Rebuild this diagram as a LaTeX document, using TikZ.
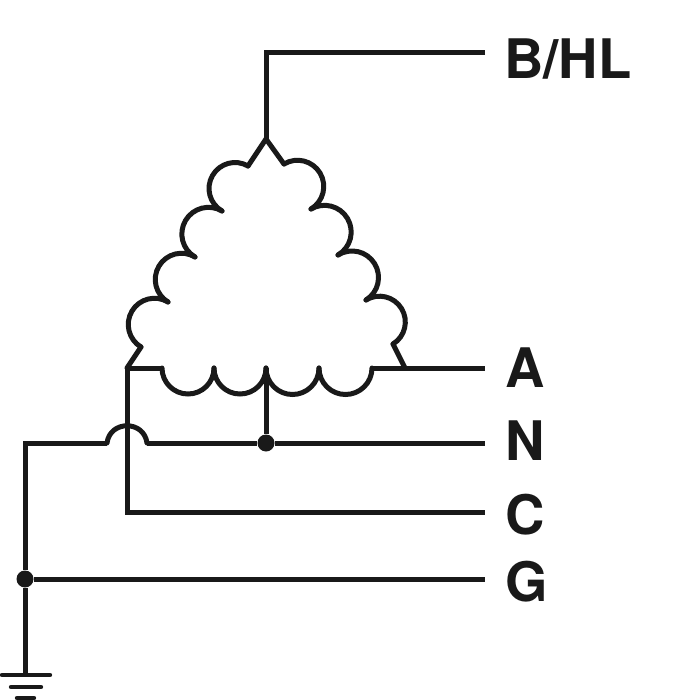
\documentclass[tikz,border=0pt]{standalone}
\usepackage{fontspec}
\setmainfont{TeX Gyre Heros}
\usetikzlibrary{calc}
\tikzset{
  wire/.style={line width=5pt,line join=miter,line cap=butt,black!90},
  coilturn/.style={line width=5pt,line cap=round,black!90},
  groundbar/.style={line width=4.4pt,line cap=round,black!90},
  junction/.style={circle,fill=black!90,inner sep=0pt,minimum size=17pt},
  tag/.style={anchor=base west,inner sep=0pt,font=\fontsize{54.5pt}{54.5pt}\selectfont\bfseries,text=black!90}
}
\newcommand{\turn}[2]{\draw[coilturn] let \p1=(#1), \p2=(#2),
  \n1={atan2(\y1-\y2,\x1-\x2)}, \n2={veclen(\x2-\x1,\y2-\y1)/2} in
  (#1) arc[start angle=\n1, delta angle=180, radius=\n2];}
\begin{document}
\begin{tikzpicture}[x=1pt,y=1pt]
\useasboundingbox (0,0) rectangle (692,-700);
% labels
\node[tag] (lb) at (504,-79) {B/HL};
\node[tag] (la) at (505,-387) {A};
\node[tag] (ln) at (505,-460) {N};
\node[tag] (lc) at (505,-534) {C};
\node[tag] (lg) at (505,-601) {G};
% wire ends
\coordinate (bend) at (266,-53);
\coordinate (bend2) at (485,-53);
\coordinate (apex) at (266,-139);
\coordinate (l0) at (248,-166);
\coordinate (l1) at (222,-211);
\coordinate (l2) at (195,-257);
\coordinate (l3) at (168,-302);
\coordinate (l4) at (141,-347);
\coordinate (corner) at (127,-368);
\coordinate (r0) at (284,-164);
\coordinate (r1) at (311,-209);
\coordinate (r2) at (338,-255);
\coordinate (r3) at (366,-300);
\coordinate (r4) at (393,-344);
\coordinate (r5) at (405,-368);
\coordinate (b0) at (162,-368);
\coordinate (b1) at (214,-368);
\coordinate (b2) at (266,-368);
\coordinate (b3) at (319,-368);
\coordinate (b4) at (372,-368);
\coordinate (aend) at (485,-368);
\coordinate (cturn) at (127,-512);
\coordinate (cend) at (485,-512);
\coordinate (nend) at (485,-443);
\coordinate (hopl) at (107,-443);
\coordinate (hopr) at (147,-443);
\coordinate (gend) at (485,-579);
\coordinate (gnd) at (25,-675);
\coordinate (g1a) at (2,-675);
\coordinate (g1b) at (50,-675);
\coordinate (g2a) at (11,-687);
\coordinate (g2b) at (41,-687);
\coordinate (g3a) at (17,-698);
\coordinate (g3b) at (34,-698);
\node[junction] (jn) at (266,-443) {};
\node[junction] (jg) at (25,-579) {};
% top feed
\draw[wire] (bend2) -- (bend) -- (apex);
\draw[wire,line cap=round] (l0) -- (apex) -- (r0);
% left coils
\turn{l0}{l1}\turn{l1}{l2}\turn{l2}{l3}\turn{l3}{l4}
\draw[wire,line cap=round] (l4) -- (corner);
% right coils
\turn{r1}{r0}\turn{r2}{r1}\turn{r3}{r2}\turn{r4}{r3}
\draw[wire,line cap=round] (r4) -- (r5);
% bottom coils
\draw[wire] (corner) -- (b0);
\turn{b0}{b1}\turn{b1}{b2}\turn{b2}{b3}\turn{b3}{b4}
\draw[wire] (b4) -- (aend);
% neutral
\draw[wire] (b2) -- (jn);
\draw[wire] (jn) -- (nend);
\draw[wire] (hopr) -- (jn);
\draw[wire,line cap=round] (hopl) .. controls (110,-420) and (144,-420) .. (hopr);
\draw[wire] (jg) |- (hopl);
% C
\draw[wire] (corner) -- (cturn) -- (cend);
% G
\draw[wire] (jg) -- (gend);
\draw[wire] (jg) -- (gnd);
\draw[groundbar] (g1a) -- (g1b);
\draw[groundbar] (g2a) -- (g2b);
\draw[groundbar] (g3a) -- (g3b);
\end{tikzpicture}
\end{document}
